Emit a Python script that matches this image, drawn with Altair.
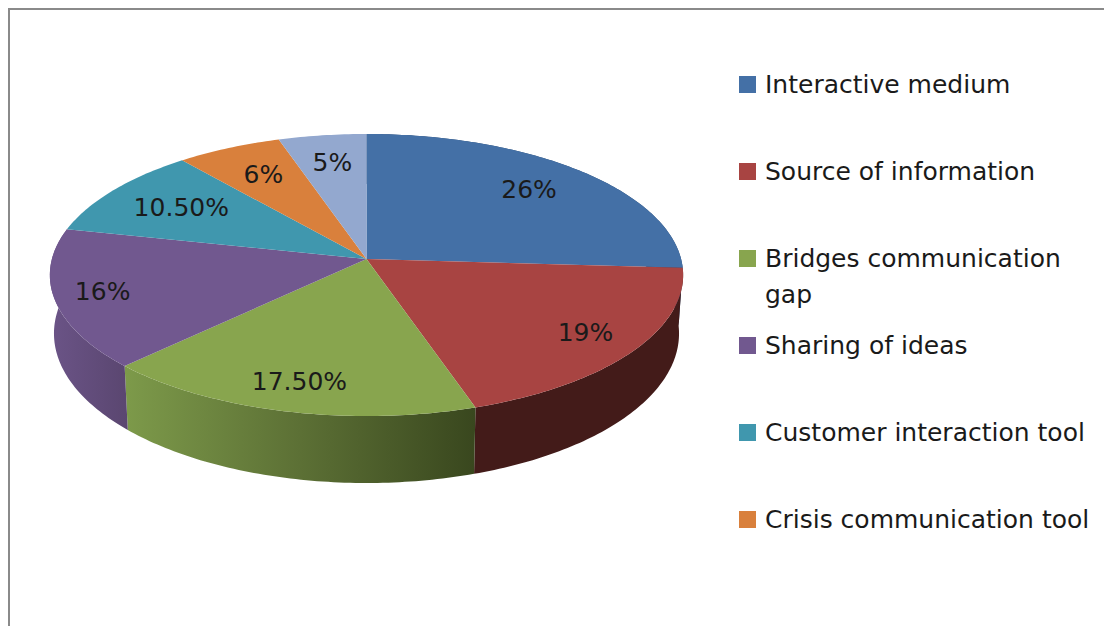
import math
import altair as alt
import pandas as pd

categories = ["Interactive medium", "Source of information", "Bridges communication gap",
              "Sharing of ideas", "Customer interaction tool", "Crisis communication tool", "Other"]
values = [26, 19, 17.5, 16, 10.5, 6, 5]
value_labels = ["26%", "19%", "17.50%", "16%", "10.50%", "6%", "5%"]
colors = ["#4470a6", "#a84442", "#88a54e", "#71588f", "#4097ae", "#d9803c", "#93a8cf"]
label_radius = [0.75, 0.83, 0.83, 0.85, 0.72, 0.73, 0.75]

W, H = 1096, 618
PERSP = -0.1135
CX, CY, SX, SY = 366.5, 259.0, 314.6, 139.2
WALL_SX, WALL_DY, WALL_SY = 0.987, 57.5 / SY, 147.6 / SY
FONT = "DejaVu Sans"


def project(angle, radius=1.0):
    X = radius * math.sin(angle)
    Y = -radius * math.cos(angle)
    d = 1 + PERSP * Y
    return X / d, Y / d


top, walls, labels = [], [], []
cum = 0.0
for cat, v, lab, r in zip(categories, values, value_labels, label_radius):
    a0 = cum / 100 * 2 * math.pi
    a1 = (cum + v) / 100 * 2 * math.pi
    n = max(8, int(v * 4))
    angles = [a0 + (a1 - a0) * k / n for k in range(n + 1)]
    top.append({"cat": cat, "i": 0, "x": 0.0, "y": 0.0})
    for k, a in enumerate(angles):
        x, y = project(a)
        top.append({"cat": cat, "i": k + 1, "x": x, "y": y})
    for k, a in enumerate(angles):
        x, y = project(a)
        walls.append({"cat": cat, "i": k, "x": x, "y": y})
    for k, a in enumerate(reversed(angles)):
        x, y = project(a)
        walls.append({"cat": cat, "i": n + 1 + k, "x": x * WALL_SX, "y": WALL_DY + y * WALL_SY})
    lx, ly = project((a0 + a1) / 2, r)
    labels.append({"x": lx, "y": ly, "text": lab})
    cum += v

top_df = pd.DataFrame(top)
wall_df = pd.DataFrame(walls)
label_df = pd.DataFrame(labels)

xs = alt.Scale(domain=[(8 - CX) / SX, (8 + W - CX) / SX], range=[0, W], nice=False, zero=False)
ys = alt.Scale(domain=[(8 - CY) / SY, (8 + H - CY) / SY], range=[0, H], nice=False, zero=False)
X = alt.X("x:Q", scale=xs, axis=None)
Y = alt.Y("y:Q", scale=ys, axis=None)


def grad(stops):
    return alt.Gradient(gradient="linear", x1=0, x2=1, y1=0, y2=0,
                        stops=[alt.GradientStop(offset=o, color=c) for o, c in stops])


wall_fills = {
    "Interactive medium": "#2c4a70",
    "Source of information": "#431b19",
    "Bridges communication gap": grad([(0, "#7d9a4a"), (0.5, "#5c7035"), (1, "#39471e")]),
    "Sharing of ideas": grad([(0, "#6b5487"), (1, "#5a4670")]),
}

wall_layers = [
    alt.Chart(wall_df[wall_df.cat == c]).mark_line(filled=True, fill=f, strokeWidth=0, clip=True)
    .encode(x=X, y=Y, order=alt.Order("i:Q"))
    for c, f in wall_fills.items()
]

legend_expr = ("datum.label == 'Bridges communication gap' ? ['Bridges communication', 'gap'] "
               ": [datum.label, ' ']")

faces = alt.Chart(top_df).mark_line(filled=True, strokeWidth=0).encode(
    x=X, y=Y, order=alt.Order("i:Q"),
    color=alt.Color("cat:N", scale=alt.Scale(domain=categories, range=colors),
                    legend=alt.Legend(
                        orient="none", legendX=727, legendY=64, title=None, padding=0,
                        values=categories[:6], columns=1, gridAlign="all",
                        symbolType="square", symbolSize=290, symbolStrokeWidth=0, symbolOpacity=1,
                        labelFont=FONT, labelFontSize=25, labelColor="#1a1a1a", labelLimit=400,
                        labelOffset=5, rowPadding=25, labelExpr=legend_expr)),
)

text = alt.Chart(label_df).mark_text(font=FONT, fontSize=25, color="#1a1a1a", dy=-1).encode(
    x=X, y=Y, text="text:N")

left = alt.Chart(pd.DataFrame({"a": [0]})).mark_rule(color="#8a8a8a", strokeWidth=2).encode(
    x=alt.value(1), y=alt.value(0), y2=alt.value(H))
up = alt.Chart(pd.DataFrame({"a": [0]})).mark_rule(color="#8a8a8a", strokeWidth=2).encode(
    y=alt.value(1), x=alt.value(0), x2=alt.value(W))

chart = alt.layer(*wall_layers, faces, text, left, up).properties(
    width=W, height=H, padding=0, autosize=alt.AutoSizeParams(type="none"),
    config=alt.Config(view=alt.ViewConfig(strokeWidth=0),
                      style={"guide-label": {"lineHeight": 36}}),
)

chart.save("out.html", embed_options={"renderer": "svg", "actions": False})
